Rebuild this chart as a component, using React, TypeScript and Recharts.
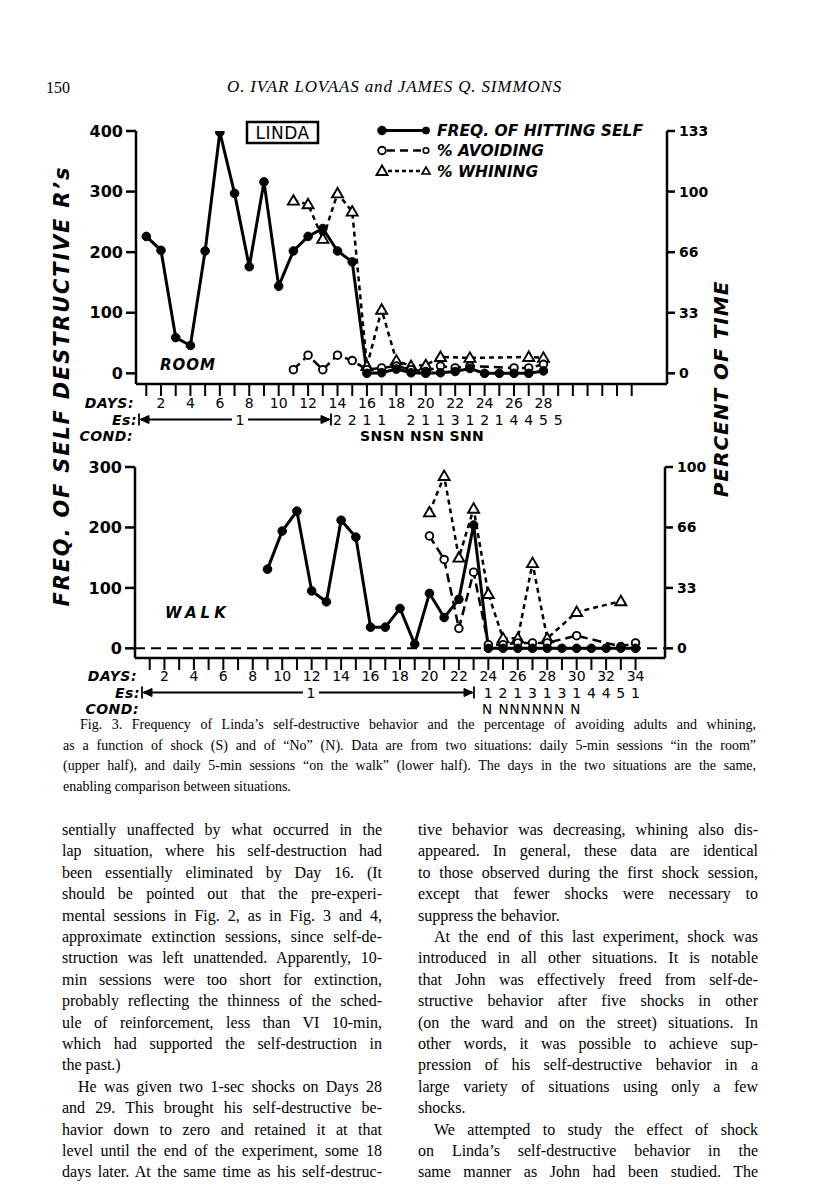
import React from 'react';
import { LineChart, Line, XAxis, YAxis, ReferenceLine } from 'recharts';

const SANS = '"DejaVu Sans", sans-serif';
const SERIF = '"Liberation Serif", "DejaVu Serif", serif';

// ---------- Upper panel: ROOM ----------
const roomFreqDays = [1, 2, 3, 4, 5, 6, 7, 8, 9, 10, 11, 12, 13, 14, 15, 16, 17, 18, 19, 20, 21, 22, 23, 24, 25, 26, 27, 28];
const roomFreq = [226, 203, 59, 46, 202, 398, 297, 176, 316, 144, 202, 226, 239, 202, 184, 0, 1, 7, 1, 0, 1, 3, 8, 0, 0, 0, 0, 4];
const roomAvoidDays = [11, 12, 13, 14, 15, 16, 17, 18, 19, 20, 21, 22, 23, 26, 27, 28];
const roomAvoid = [2, 10, 2, 10, 7, 2, 3, 4, 2, 1, 4, 3, 4, 3, 3, 5];
const roomWhineDays = [11, 12, 13, 14, 15, 16, 17, 18, 19, 20, 21, 23, 27, 28];
const roomWhine = [95, 93, 74, 99, 89, 4, 35, 7, 4, 4.5, 9, 8.5, 9, 8.5];

// ---------- Lower panel: WALK ----------
const walkFreqDays = [9, 10, 11, 12, 13, 14, 15, 16, 17, 18, 19, 20, 21, 22, 23, 24, 25, 26, 27, 28, 29, 30, 31, 32, 33, 34];
const walkFreq = [131, 194, 227, 95, 77, 212, 184, 35, 35, 66, 7, 91, 51, 81, 204, 0, 0, 0, 0, 0, 0, 0, 0, 0, 0, 0];
const walkAvoidDays = [20, 21, 22, 23, 24, 25, 26, 27, 28, 30, 33, 34];
const walkAvoid = [62, 49, 11, 42, 2, 2, 3, 3, 3, 7, 1, 3];
const walkWhineDays = [20, 21, 22, 23, 24, 25, 26, 27, 28, 30, 33];
const walkWhine = [75, 95, 50, 77, 30, 5.5, 5.5, 47, 5.5, 20, 26];

// ---------- Axes / labels ----------
const tickDays = [1, 2, 3, 4, 5, 6, 7, 8, 9, 10, 11, 12, 13, 14, 15, 16, 17, 18, 19, 20, 21, 22, 23, 24, 25, 26, 27, 28, 29, 30, 31, 32, 33, 34];
const roomDayLabels = [2, 4, 6, 8, 10, 12, 14, 16, 18, 20, 22, 24, 26, 28];
const walkDayLabels = [2, 4, 6, 8, 10, 12, 14, 16, 18, 20, 22, 24, 26, 28, 30, 32, 34];
const roomLeftTicks = [0, 100, 200, 300, 400];
const walkLeftTicks = [0, 100, 200, 300];
const roomRightTicks = [0, 100 / 3, 200 / 3, 100, 400 / 3];
const roomRightLabels = ['0', '33', '66', '100', '133'];
const walkRightTicks = [0, 100 / 3, 200 / 3, 100];
const walkRightLabels = ['0', '33', '66', '100'];
const roomEsDays = [14, 15, 16, 17, 19, 20, 21, 22, 23, 24, 25, 26, 27, 28, 29];
const roomEs = ['2', '2', '1', '1', '2', '1', '1', '3', '1', '2', '1', '4', '4', '5', '5'];
const walkEsDays = [24, 25, 26, 27, 28, 29, 30, 31, 32, 33, 34];
const walkEs = ['1', '2', '1', '3', '1', '3', '1', '4', '4', '5', '1'];
const roomCond = 'SNSN NSN  SNN';
const walkCond = 'N NNNNNN N';

const leftColumn: [string, string][] = [
  ['sentially unaffected by what occurred in the', 'j'],
  ['lap situation, where his self-destruction had', 'j'],
  ['been essentially eliminated by Day 16. (It', 'j'],
  ['should be pointed out that the pre-experi-', 'j'],
  ['mental sessions in Fig. 2, as in Fig. 3 and 4,', 'j'],
  ['approximate extinction sessions, since self-de-', 'j'],
  ['struction was left unattended. Apparently, 10-', 'j'],
  ['min sessions were too short for extinction,', 'j'],
  ['probably reflecting the thinness of the sched-', 'j'],
  ['ule of reinforcement, less than VI 10-min,', 'j'],
  ['which had supported the self-destruction in', 'j'],
  ['the past.)', 'l'],
  ['He was given two 1-sec shocks on Days 28', 'i'],
  ['and 29. This brought his self-destructive be-', 'j'],
  ['havior down to zero and retained it at that', 'j'],
  ['level until the end of the experiment, some 18', 'j'],
  ['days later. At the same time as his self-destruc-', 'j'],
];
const rightColumn: [string, string][] = [
  ['tive behavior was decreasing, whining also dis-', 'j'],
  ['appeared. In general, these data are identical', 'j'],
  ['to those observed during the first shock session,', 'j'],
  ['except that fewer shocks were necessary to', 'j'],
  ['suppress the behavior.', 'l'],
  ['At the end of this last experiment, shock was', 'i'],
  ['introduced in all other situations. It is notable', 'j'],
  ['that John was effectively freed from self-de-', 'j'],
  ['structive behavior after five shocks in other', 'j'],
  ['(on the ward and on the street) situations. In', 'j'],
  ['other words, it was possible to achieve sup-', 'j'],
  ['pression of his self-destructive behavior in a', 'j'],
  ['large variety of situations using only a few', 'j'],
  ['shocks.', 'l'],
  ['We attempted to study the effect of shock', 'i'],
  ['on Linda\u2019s self-destructive behavior in the', 'j'],
  ['same manner as John had been studied. The', 'j'],
];
const captionLines: [string, string][] = [
  ['Fig. 3. Frequency of Linda\u2019s self-destructive behavior and the percentage of avoiding adults and whining,', 'i'],
  ['as a function of shock (S) and of \u201cNo\u201d (N). Data are from two situations: daily 5-min sessions \u201cin the room\u201d', 'j'],
  ['(upper half), and daily 5-min sessions \u201con the walk\u201d (lower half). The days in the two situations are the same,', 'j'],
  ['enabling comparison between situations.', 'l'],
];

type Series = { key: string; days: number[]; values: number[] };
function buildRows(series: Series[]) {
  const set = new Set<number>();
  series.forEach((s) => s.days.forEach((d) => set.add(d)));
  const days = Array.from(set).sort((a, b) => a - b);
  return days.map((day) => {
    const row: Record<string, number | null> = { day };
    series.forEach((s) => {
      const i = s.days.indexOf(day);
      row[s.key] = i >= 0 ? s.values[i] : null;
    });
    return row;
  });
}

const roomRows = buildRows([
  { key: 'freq', days: roomFreqDays, values: roomFreq },
  { key: 'avoid', days: roomAvoidDays, values: roomAvoid },
  { key: 'whine', days: roomWhineDays, values: roomWhine },
]);
const walkRows = buildRows([
  { key: 'freq', days: walkFreqDays, values: walkFreq },
  { key: 'avoid', days: walkAvoidDays, values: walkAvoid },
  { key: 'whine', days: walkWhineDays, values: walkWhine },
]);

const CircleDot = (p: any) => {
  if (p.cx == null || p.cy == null || p.value == null) return <g />;
  return <circle cx={p.cx} cy={p.cy} r={3.8} fill="#fff" stroke="#000" strokeWidth={1.9} />;
};
const FilledDot = (p: any) => {
  if (p.cx == null || p.cy == null || p.value == null) return <g />;
  return <circle cx={p.cx} cy={p.cy} r={4.3} fill="#000" stroke="#000" strokeWidth={1} />;
};
const TriDot = (p: any) => {
  if (p.cx == null || p.cy == null || p.value == null) return <g />;
  const cx = p.cx;
  const cy = p.cy;
  return (
    <polygon
      points={`${cx},${cy - 5.5} ${cx - 5.5},${cy + 4} ${cx + 5.5},${cy + 4}`}
      fill="#fff"
      stroke="#000"
      strokeWidth={1.9}
      strokeLinejoin="miter"
    />
  );
};

type PanelProps = {
  top: number;
  height: number;
  margin: { top: number; right: number; bottom: number; left: number };
  rows: any[];
  xDomain: [number, number];
  leftDomain: [number, number];
  leftTicks: number[];
  rightDomain: [number, number];
  rightTicks: number[];
  rightLabels: string[];
  labelDays: number[];
  esDays: number[];
  es: string[];
  rowOff: [number, number];
  dashedZero: boolean;
};

function Panel(props: PanelProps) {
  const { top, height, margin, rows, xDomain, leftDomain, leftTicks, rightDomain, rightTicks, rightLabels, labelDays, esDays, es, rowOff, dashedZero } = props;
  const renderTick = (p: any) => {
    const d = p.payload.value;
    const ei = esDays.indexOf(d);
    return (
      <g>
        {labelDays.includes(d) ? (
          <text x={p.x} y={p.y + rowOff[0]} textAnchor="middle" dominantBaseline="central" fontFamily={SANS} fontSize={14} fill="#000">
            {d}
          </text>
        ) : null}
        {ei >= 0 ? (
          <text x={p.x} y={p.y + rowOff[1]} textAnchor="middle" dominantBaseline="central" fontFamily={SANS} fontSize={14} fill="#000">
            {es[ei]}
          </text>
        ) : null}
      </g>
    );
  };
  const rightFmt = (v: number) => {
    const i = rightTicks.findIndex((t) => Math.abs(t - v) < 0.01);
    return i >= 0 ? rightLabels[i] : '';
  };
  return (
    <div style={{ position: 'absolute', left: 0, top }}>
      <LineChart width={816} height={height} data={rows} margin={margin}>
        <XAxis
          dataKey="day"
          type="number"
          domain={xDomain}
          allowDataOverflow
          ticks={tickDays}
          interval={0}
          tickSize={12}
          tickMargin={0}
          height={30}
          axisLine={{ stroke: '#000', strokeWidth: 2.5 }}
          tickLine={{ stroke: '#000', strokeWidth: 2 }}
          tick={renderTick}
        />
        <YAxis
          yAxisId="l"
          domain={leftDomain}
          allowDataOverflow
          ticks={leftTicks}
          interval={0}
          width={60}
          tickSize={10}
          tickMargin={3}
          axisLine={{ stroke: '#000', strokeWidth: 2.5 }}
          tickLine={{ stroke: '#000', strokeWidth: 2.5 }}
          tick={{ fill: '#000', fontSize: 16, fontFamily: SANS, fontWeight: 'bold' }}
        />
        <YAxis
          yAxisId="r"
          orientation="right"
          domain={rightDomain}
          allowDataOverflow
          ticks={rightTicks}
          interval={0}
          width={60}
          tickSize={8}
          tickMargin={4}
          tickFormatter={rightFmt}
          axisLine={{ stroke: '#000', strokeWidth: 2.5 }}
          tickLine={{ stroke: '#000', strokeWidth: 2.5 }}
          tick={{ fill: '#000', fontSize: 14, fontFamily: SANS, fontWeight: 'bold', textAnchor: 'start' }}
        />
        {dashedZero ? (
          <ReferenceLine yAxisId="l" y={0} stroke="#000" strokeWidth={2} strokeDasharray="10 6" />
        ) : null}
        <Line
          yAxisId="r"
          type="linear"
          dataKey="whine"
          stroke="#000"
          strokeWidth={2.5}
          strokeDasharray="5 4"
          connectNulls
          dot={TriDot}
          activeDot={false}
          isAnimationActive={false}
        />
        <Line
          yAxisId="r"
          type="linear"
          dataKey="avoid"
          stroke="#000"
          strokeWidth={2.5}
          strokeDasharray="9 5"
          connectNulls
          dot={CircleDot}
          activeDot={false}
          isAnimationActive={false}
        />
        <Line
          yAxisId="l"
          type="linear"
          dataKey="freq"
          stroke="#000"
          strokeWidth={3}
          connectNulls={false}
          dot={FilledDot}
          activeDot={false}
          isAnimationActive={false}
        />
      </LineChart>
    </div>
  );
}

const labelStyle = { fontFamily: SANS, fontStyle: 'italic' as const, fontWeight: 'bold' as const };

function EsArrow({ x1, x2, xm, y }: { x1: number; x2: number; xm: number; y: number }) {
  return (
    <g stroke="#000" strokeWidth={1.8} fill="#000">
      <line x1={x1} y1={y - 6} x2={x1} y2={y + 6} />
      <line x1={x1 + 2} y1={y} x2={xm - 8} y2={y} />
      <polygon points={`${x1 + 1},${y} ${x1 + 10},${y - 4} ${x1 + 10},${y + 4}`} strokeWidth={1} />
      <text x={xm} y={y} textAnchor="middle" dominantBaseline="central" fontFamily={SANS} fontSize={14} stroke="none">
        1
      </text>
      <line x1={xm + 8} y1={y} x2={x2 - 2} y2={y} />
      <polygon points={`${x2 - 1},${y} ${x2 - 10},${y - 4} ${x2 - 10},${y + 4}`} strokeWidth={1} />
      <line x1={x2} y1={y - 6} x2={x2} y2={y + 6} />
    </g>
  );
}

const UP = { days: 403, es: 419.5, cond: 436 };
const LO = { days: 676, es: 692.5, cond: 709 };
const ROWFONT = 14;

function Overlay() {
  return (
    <svg width={816} height={760} style={{ position: 'absolute', left: 0, top: 0, pointerEvents: 'none' }}>
      <text
        x={62}
        y={386}
        transform="rotate(-90 62 386)"
        textAnchor="middle"
        dominantBaseline="central"
        fontSize={21}
        letterSpacing={1.8}
        {...labelStyle}
      >
        FREQ. OF SELF DESTRUCTIVE R{'\u2019'}s
      </text>
      <text
        x={721}
        y={389}
        transform="rotate(-90 721 389)"
        textAnchor="middle"
        dominantBaseline="central"
        fontSize={20}
        letterSpacing={1}
        {...labelStyle}
      >
        PERCENT OF TIME
      </text>

      <rect x={247} y={122} width={71} height={21} fill="none" stroke="#000" strokeWidth={2.5} />
      <text x={282.5} y={133} textAnchor="middle" dominantBaseline="central" fontFamily={SANS} fontSize={17} letterSpacing={0.5}>
        LINDA
      </text>

      <g stroke="#000" fill="#000">
        <line x1={382} y1={130.5} x2={426} y2={130.5} strokeWidth={3} />
        <circle cx={382} cy={130.5} r={4.3} />
        <circle cx={426} cy={130.5} r={3.5} />
        <line x1={387} y1={150.5} x2={422} y2={150.5} strokeWidth={2.5} strokeDasharray="8 5" />
        <circle cx={382} cy={150.5} r={3.8} fill="#fff" strokeWidth={1.9} />
        <circle cx={426} cy={150.5} r={2.8} fill="#fff" strokeWidth={1.6} />
        <line x1={388} y1={171} x2={421} y2={171} strokeWidth={2.5} strokeDasharray="4 3" />
        <polygon points="382,165.5 376.5,175 387.5,175" fill="#fff" strokeWidth={1.9} />
        <polygon points="426,167 422,174 430,174" fill="#fff" strokeWidth={1.6} />
      </g>
      <text x={437} y={131} dominantBaseline="central" fontSize={15.5} {...labelStyle}>
        FREQ. OF HITTING SELF
      </text>
      <text x={437} y={151} dominantBaseline="central" fontSize={15.5} {...labelStyle}>
        % AVOIDING
      </text>
      <text x={437} y={171.5} dominantBaseline="central" fontSize={15.5} {...labelStyle}>
        % WHINING
      </text>

      <text x={160} y={365} dominantBaseline="central" fontSize={15} letterSpacing={1} {...labelStyle}>
        ROOM
      </text>
      <text x={165} y={613} dominantBaseline="central" fontSize={15} letterSpacing={4} {...labelStyle}>
        WALK
      </text>

      <text x={134} y={UP.days} textAnchor="end" dominantBaseline="central" fontSize={ROWFONT} letterSpacing={0.5} {...labelStyle}>
        DAYS:
      </text>
      <text x={137} y={UP.es} textAnchor="end" dominantBaseline="central" fontSize={ROWFONT} letterSpacing={0.5} {...labelStyle}>
        Es:
      </text>
      <text x={133} y={UP.cond} textAnchor="end" dominantBaseline="central" fontSize={ROWFONT} letterSpacing={0.5} {...labelStyle}>
        COND:
      </text>
      <EsArrow x1={139} x2={331} xm={240} y={UP.es} />
      <text x={360} y={UP.cond} dominantBaseline="central" fontFamily={SANS} fontSize={14} fontWeight="bold" letterSpacing={0.3}>
        {roomCond}
      </text>

      <text x={137} y={LO.days} textAnchor="end" dominantBaseline="central" fontSize={ROWFONT} letterSpacing={0.5} {...labelStyle}>
        DAYS:
      </text>
      <text x={140} y={LO.es} textAnchor="end" dominantBaseline="central" fontSize={ROWFONT} letterSpacing={0.5} {...labelStyle}>
        Es:
      </text>
      <text x={139} y={LO.cond} textAnchor="end" dominantBaseline="central" fontSize={ROWFONT} letterSpacing={0.5} {...labelStyle}>
        COND:
      </text>
      <EsArrow x1={142} x2={474} xm={311} y={LO.es} />
      <text x={482} y={LO.cond} dominantBaseline="central" fontFamily={SANS} fontSize={13.5} letterSpacing={1}>
        {walkCond}
      </text>
    </svg>
  );
}

function TextLine({ text, kind, left, width, top, indent, size, lh }: { text: string; kind: string; left: number; width: number; top: number; indent: number; size: number; lh: number }) {
  const just = kind === 'j' || kind === 'i';
  return (
    <div
      style={{
        position: 'absolute',
        left: left + (kind === 'i' ? indent : 0),
        top,
        width: width - (kind === 'i' ? indent : 0),
        fontFamily: SERIF,
        fontSize: size,
        lineHeight: `${lh}px`,
        height: lh,
        whiteSpace: 'nowrap',
        textAlign: just ? 'justify' : 'left',
        textAlignLast: just ? 'justify' : 'left',
        color: '#000',
      }}
    >
      {text}
    </div>
  );
}

export default function App() {
  const bodyTop = 819;
  const bodyLH = 21.4;
  return (
    <div style={{ position: 'absolute', left: 0, top: 0, width: 816, height: 1191, background: '#fff', overflow: 'hidden' }}>
      <div style={{ position: 'absolute', left: 46, top: 78, fontFamily: SERIF, fontSize: 16, lineHeight: '20px' }}>150</div>
      <div style={{ position: 'absolute', left: 227, top: 77, fontFamily: SERIF, fontSize: 17, fontStyle: 'italic', lineHeight: '20px', letterSpacing: 0.85, whiteSpace: 'nowrap' }}>
        O. IVAR LOVAAS and JAMES Q. SIMMONS
      </div>

      <Panel
        top={0}
        height={470}
        margin={{ top: 131, right: 89, bottom: 56, left: 76 }}
        rows={roomRows}
        xDomain={[0.3, 36.4]}
        leftDomain={[-17.6, 400]}
        leftTicks={roomLeftTicks}
        rightDomain={[-17.6 / 3, 400 / 3]}
        rightTicks={roomRightTicks}
        rightLabels={roomRightLabels}
        labelDays={roomDayLabels}
        esDays={roomEsDays}
        es={roomEs}
        rowOff={[UP.days - 396, UP.es - 396]}
        dashedZero={false}
      />
      <Panel
        top={440}
        height={300}
        margin={{ top: 27, right: 91, bottom: 52, left: 75 }}
        rows={walkRows}
        xDomain={[0, 36]}
        leftDomain={[-16, 300]}
        leftTicks={walkLeftTicks}
        rightDomain={[-16 / 3, 100]}
        rightTicks={walkRightTicks}
        rightLabels={walkRightLabels}
        labelDays={walkDayLabels}
        esDays={walkEsDays}
        es={walkEs}
        rowOff={[LO.days - 670, LO.es - 670]}
        dashedZero={true}
      />
      <Overlay />

      {captionLines.map(([t, k], i) => (
        <TextLine key={'c' + i} text={t} kind={k} left={63} width={693} top={715 + i * 20.5} indent={17} size={14} lh={20} />
      ))}
      {leftColumn.map(([t, k], i) => (
        <TextLine key={'l' + i} text={t} kind={k} left={62} width={320} top={bodyTop + i * bodyLH} indent={16} size={16} lh={21} />
      ))}
      {rightColumn.map(([t, k], i) => (
        <TextLine key={'r' + i} text={t} kind={k} left={418} width={340} top={bodyTop + i * bodyLH} indent={16} size={16} lh={21} />
      ))}
    </div>
  );
}
